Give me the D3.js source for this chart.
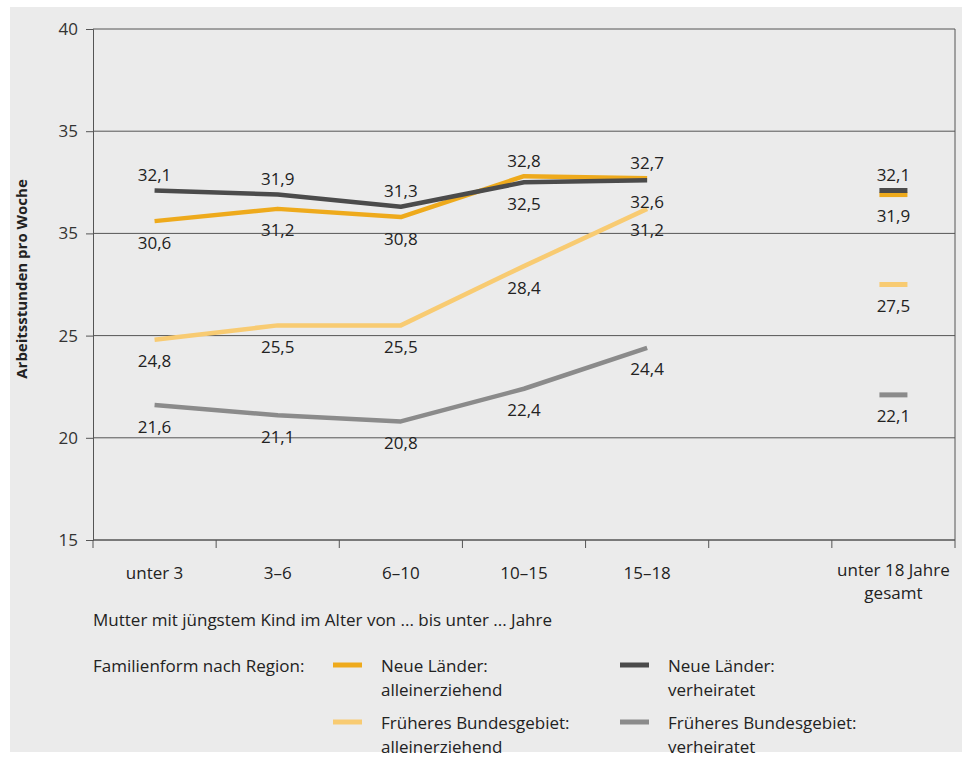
<!DOCTYPE html>
<html>
<head>
<meta charset="utf-8">
<script src="https://cdn.jsdelivr.net/npm/d3@7"></script>
<style>
  html, body { margin: 0; padding: 0; background: #ffffff; }
  svg { display: block; font-family: "Open Sans", "Noto Sans", sans-serif; }
</style>
</head>
<body>
<svg id="chart" width="962" height="758"></svg>
<script>
// ---- data ----
const categories = ["unter 3", "3–6", "6–10", "10–15", "15–18", "", "unter 18 Jahre gesamt"];
const lineCategories = ["unter 3", "3–6", "6–10", "10–15", "15–18"];
const totalCategory = "unter 18 Jahre gesamt";

const seriesNames = [
  "Neue Länder: alleinerziehend",
  "Neue Länder: verheiratet",
  "Früheres Bundesgebiet: alleinerziehend",
  "Früheres Bundesgebiet: verheiratet"
];
const neueAllein = [30.6, 31.2, 30.8, 32.8, 32.7];
const neueVerh   = [32.1, 31.9, 31.3, 32.5, 32.6];
const fruehAllein = [24.8, 25.5, 25.5, 28.4, 31.2];
const fruehVerh   = [21.6, 21.1, 20.8, 22.4, 24.4];
const totals = [31.9, 32.1, 27.5, 22.1];

const yTickValues = [15, 20, 25, 30, 35, 40];
const yTickLabels = ["15", "20", "25", "35", "35", "40"];

const legendLines = [
  ["Neue Länder:", "alleinerziehend"],
  ["Neue Länder:", "verheiratet"],
  ["Früheres Bundesgebiet:", "alleinerziehend"],
  ["Früheres Bundesgebiet:", "verheiratet"]
];

// ---- styles ----
const colors = ["#eeaa1c", "#4b4b4b", "#f8cb72", "#8b8b8b"];
const seriesValues = [neueAllein, neueVerh, fruehAllein, fruehVerh];
const fmt = v => d3.format(".1f")(v).replace(".", ",");
const FS = 17;

const svg = d3.select("#chart");
const pLeft = 93, pRight = 955, pTop = 29, pBottom = 540;

svg.append("rect").attr("x", 10).attr("y", 7).attr("width", 952).attr("height", 745).attr("fill", "#ebebeb");

const x = d3.scaleBand().domain(categories).range([pLeft, pRight]).padding(0);
const y = d3.scaleLinear().domain([15, 40]).range([pBottom, pTop]);
const cx = c => x(c) + x.bandwidth() / 2;

// gridlines
svg.append("g").selectAll("line").data(yTickValues).join("line")
  .attr("x1", pLeft).attr("x2", pRight)
  .attr("y1", d => y(d)).attr("y2", d => y(d))
  .attr("stroke", "#555").attr("stroke-width", 1);

// y axis
const yAxis = d3.axisLeft(y).tickValues(yTickValues)
  .tickFormat((d, i) => yTickLabels[i]).tickSize(7).tickPadding(8);
const gy = svg.append("g").attr("transform", `translate(${pLeft},0)`).call(yAxis);
gy.select(".domain").attr("stroke", "#555");
gy.selectAll(".tick line").attr("stroke", "#555");
gy.selectAll(".tick text").attr("font-size", FS).attr("fill", "#333").attr("font-family", "Open Sans");

// right border
svg.append("line").attr("x1", pRight).attr("x2", pRight).attr("y1", pTop).attr("y2", pBottom)
  .attr("stroke", "#555").attr("stroke-width", 1);

// x axis: ticks at band boundaries
const gx = svg.append("g").attr("transform", `translate(0,${pBottom})`);
gx.append("line").attr("x1", pLeft).attr("x2", pRight).attr("stroke", "#555");
const boundaries = categories.map(c => x(c)).concat([pRight]);
gx.selectAll("line.tk").data(boundaries).join("line").attr("class", "tk")
  .attr("x1", d => d).attr("x2", d => d).attr("y1", 0).attr("y2", 8)
  .attr("stroke", "#555");
categories.forEach(c => {
  if (!c) return;
  const t = gx.append("text").attr("x", cx(c)).attr("text-anchor", "middle")
    .attr("font-size", FS).attr("fill", "#222");
  if (c === totalCategory) {
    t.append("tspan").attr("x", cx(c)).attr("y", 36).text("unter 18 Jahre");
    t.append("tspan").attr("x", cx(c)).attr("y", 59).text("gesamt");
  } else {
    t.attr("y", 39).text(c);
  }
});

// y title
svg.append("text").attr("transform", "translate(27,279) rotate(-90)")
  .attr("text-anchor", "middle").attr("font-size", 15).attr("font-weight", "bold")
  .attr("fill", "#222").text("Arbeitsstunden pro Woche");

// lines
const line = d3.line().x((d, i) => cx(lineCategories[i])).y(d => y(d));
seriesValues.forEach((vals, s) => {
  svg.append("path").datum(vals).attr("d", line)
    .attr("fill", "none").attr("stroke", colors[s]).attr("stroke-width", 4.5)
    .attr("stroke-linejoin", "round");
});

// total markers (draw yellow before dark so dark sits on top)
[0, 2, 3, 1].forEach(s => {
  const c = cx(totalCategory);
  svg.append("line").attr("x1", c - 14).attr("x2", c + 14)
    .attr("y1", y(totals[s])).attr("y2", y(totals[s]))
    .attr("stroke", colors[s]).attr("stroke-width", 5);
});

// value labels: highest value per category above, others below
const labelG = svg.append("g").attr("font-size", FS).attr("fill", "#222").attr("text-anchor", "middle");
const allCats = lineCategories.concat([totalCategory]);
allCats.forEach((c, ci) => {
  const vals = seriesValues.map((v, s) => ci < lineCategories.length ? v[ci] : totals[s]);
  const maxV = d3.max(vals);
  vals.forEach(v => {
    const above = v === maxV;
    labelG.append("text").attr("x", cx(c)).attr("y", y(v) + (above ? -16 : 21))
      .attr("dominant-baseline", "central").text(fmt(v));
  });
});

// x title
svg.append("text").attr("x", pLeft).attr("y", 619).attr("dominant-baseline", "central")
  .attr("font-size", FS).attr("fill", "#222")
  .text("Mutter mit jüngstem Kind im Alter von ... bis unter ... Jahre");

// legend
svg.append("text").attr("x", pLeft).attr("y", 665).attr("dominant-baseline", "central")
  .attr("font-size", FS).attr("fill", "#222").text("Familienform nach Region:");
const legX = [333, 620], legY = [665, 722];
legendLines.forEach((lines, i) => {
  const lx = legX[i % 2], ly = legY[Math.floor(i / 2)];
  svg.append("line").attr("x1", lx).attr("x2", lx + 29).attr("y1", ly).attr("y2", ly)
    .attr("stroke", colors[i]).attr("stroke-width", 5);
  const t = svg.append("text").attr("font-size", FS).attr("fill", "#222");
  lines.forEach((l, j) => {
    t.append("tspan").attr("x", lx + 48).attr("y", ly + j * 24).attr("dominant-baseline", "central").text(l);
  });
});
</script>
</body>
</html>
